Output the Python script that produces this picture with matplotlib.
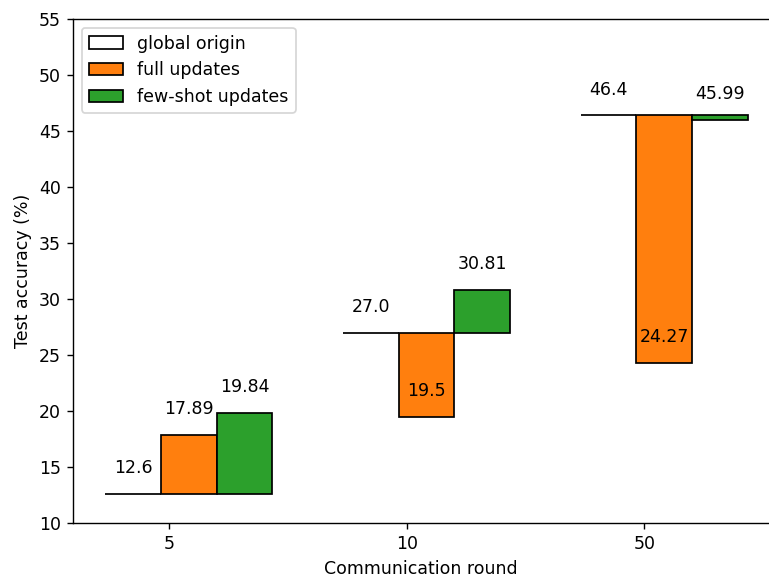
import matplotlib
matplotlib.use("Agg")
import matplotlib.pyplot as plt
import numpy as np

# 数据
rounds = ["5", "10", "50"]
global_origin = [12.6, 27.0, 46.4]
full_updates = [17.89, 19.5, 24.27]
few_shot_updates = [19.84, 30.81, 45.99]

DPI = 125
fig = plt.figure(figsize=(769 / DPI, 576 / DPI), dpi=DPI)
ax = fig.add_axes([73 / 769, 53 / 576, 696 / 769, 504 / 576])

x = np.arange(len(rounds))
width = 0.234
pos_origin = x - 0.151
pos_full = pos_origin + width
pos_few = pos_full + width

origin = np.array(global_origin)
full = np.array(full_updates)
few = np.array(few_shot_updates)

ax.bar(pos_origin, np.zeros_like(origin), width, bottom=origin,
       color="white", edgecolor="black", label="global origin")
ax.bar(pos_full, full - origin, width, bottom=origin,
       color="#ff7f0e", edgecolor="black", label="full updates")
ax.bar(pos_few, few - origin, width, bottom=origin,
       color="#2ca02c", edgecolor="black", label="few-shot updates")

# 数值标注
for xs, vals in [(pos_origin, origin), (pos_full, full), (pos_few, few)]:
    for xi, v in zip(xs, vals):
        ax.text(xi, v + 1.5, f"{v}", ha="center", va="bottom")

ax.set_xticks(x)
ax.set_xticklabels(rounds)
ax.set_xlim(-0.404, 2.524)
ax.set_ylim(10, 55)
ax.set_yticks(range(10, 56, 5))
ax.spines["right"].set_visible(False)
ax.set_xlabel("Communication round")
ax.set_ylabel("Test accuracy (%)")
ax.legend(loc="upper left")

fig.savefig("out.png", dpi=DPI)
